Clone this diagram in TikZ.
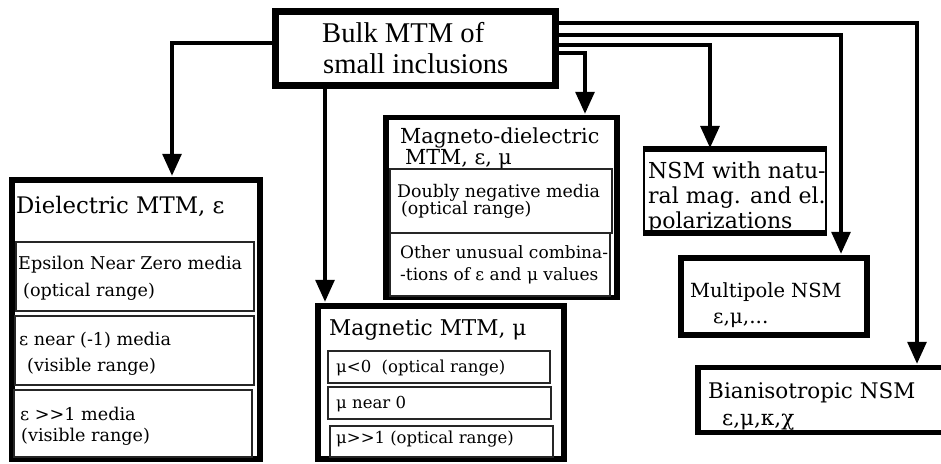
\documentclass[tikz,border=0pt]{standalone}
\usepackage{fontspec}
\setmainfont{DejaVu Serif}
\newfontfamily\tnr{Liberation Serif}
\usetikzlibrary{arrows.meta}
\newcommand\fsz[1]{\fontsize{#1}{#1}\selectfont}
\tikzset{
 bigbox/.style={draw, line width=6.5pt, inner sep=0pt, fill=white},
 subbox/.style={draw=black!85, line width=1.2pt, inner sep=0pt},
 txt/.style={anchor=base west, inner sep=0pt},
 conn/.style={line width=3.2pt, -{Triangle[length=22pt,width=19pt]}, shorten >=1pt},
}
\begin{document}
\begin{tikzpicture}[x=1pt,y=-1pt]
\useasboundingbox (0,0) rectangle (941,463);
\clip (0,0) rectangle (941,463);
\fill[white] (0,0) rectangle (941,463);

% connector bends
\coordinate (a1) at (172,43);
\coordinate (a2) at (325,100);
\coordinate (a3) at (585,53);
\coordinate (a4) at (710,45);
\coordinate (a5) at (841,35);
\coordinate (a6) at (917,23);

% boxes
\node[bigbox, line width=7pt, minimum width=280pt, minimum height=73.5pt] (top) at (415,48.25) {};
\node[bigbox, minimum width=248pt, minimum height=279pt] (diel) at (136,319.5) {};
\node[bigbox, line width=5.5pt, minimum width=231pt, minimum height=180pt] (mdiel) at (501.5,207.5) {};
\node[bigbox, minimum width=246pt, minimum height=153pt] (magn) at (441,382.5) {};
\node[bigbox, line width=2.2pt, minimum width=182pt, minimum height=82pt] (nsm) at (735,191) {};
\draw[line width=6.5pt] (nsm.north west) -- (nsm.north east);
\draw[line width=6.5pt] (nsm.south west) -- (nsm.south east);
\node[bigbox, minimum width=186pt, minimum height=77pt] (mult) at (774,296.5) {};
\node[bigbox, line width=5.5pt, minimum width=252pt, minimum height=65pt] (bian) at (824,400) {};

% connectors
\draw[conn] (top.west |- a1) -- (a1) -- (a1 |- diel.north);
\draw[conn] (a2 |- top.south) -- (a2 |- magn.north);
\draw[conn] (top.east |- a3) -- (a3) -- (a3 |- mdiel.north);
\draw[conn] (top.east |- a4) -- (a4) -- (a4 |- nsm.north);
\draw[conn] (top.east |- a5) -- (a5) -- (a5 |- mult.north);
\draw[conn] (top.east |- a6) -- (a6) -- (a6 |- bian.north);

% sub boxes
\node[subbox, minimum width=238pt, minimum height=69pt] (d1) at (135,276.5) {};
\node[subbox, minimum width=239pt, minimum height=69pt] (d2) at (134.5,350.5) {};
\node[subbox, minimum width=238pt, minimum height=67pt] (d3) at (133,423.5) {};
\node[subbox, minimum width=222pt, minimum height=64pt] (m1) at (501,201) {};
\node[subbox, minimum width=220pt, minimum height=63pt] (m2) at (500,264.5) {};
\node[subbox, minimum width=222pt, minimum height=32pt] (g1) at (439,367) {};
\node[subbox, minimum width=223pt, minimum height=32pt] (g2) at (439.5,403) {};
\node[subbox, minimum width=223pt, minimum height=31pt] (g3) at (441.5,441.5) {};

% texts
\node[txt, font=\tnr\fsz{28.6}] (t1) at (322,42) {Bulk MTM of};
\node[txt, font=\tnr\fsz{28.6}] (t2) at (323,73) {small inclusions};

\node[txt, font=\fsz{22.8}] (dt) at (16,213) {Dielectric MTM, ε};
\node[txt, font=\fsz{17.6}] (d1a) at (18,269) {Epsilon Near Zero media};
\node[txt, font=\fsz{17.6}] (d1b) at (23,296) {(optical range)};
\node[txt, font=\fsz{17.6}] (d2a) at (19,345) {ε near (-1) media};
\node[txt, font=\fsz{17.6}] (d2b) at (27,371) {(visible range)};
\node[txt, font=\fsz{17.6}] (d3a) at (20,420) {ε >{}>1 media};
\node[txt, font=\fsz{17.6}] (d3b) at (21,441) {(visible range)};

\node[txt, font=\fsz{20.7}] (mt1) at (400,143) {Magneto-dielectric};
\node[txt, font=\fsz{20.7}] (mt2) at (405,164) {MTM, ε, μ};
\node[txt, font=\fsz{17.4}] (m1a) at (397,197) {Doubly negative media};
\node[txt, font=\fsz{17.4}] (m1b) at (401,214) {(optical range)};
\node[txt, font=\fsz{17}] (m2a) at (400,258) {Other unusual combina-};
\node[txt, font=\fsz{17}] (m2b) at (400,280) {-tions of ε and μ values};

\node[txt, font=\fsz{21.7}] (gt) at (329,335) {Magnetic MTM, μ};
\node[txt, font=\fsz{16.5}] (g1a) at (336,372) {μ<0~ (optical range)};
\node[txt, font=\fsz{16.5}] (g2a) at (336,408) {μ near 0};
\node[txt, font=\fsz{16.5}] (g3a) at (336,443) {μ>{}>1 (optical range)};

\node[txt, font=\fsz{22}] (n1) at (648,178) {NSM with natu-};
\node[txt, font=\fsz{22}] (n2) at (648,203) {ral mag. and el.};
\node[txt, font=\fsz{22}] (n3) at (648,228) {polarizations};

\node[txt, font=\fsz{19.5}] (p1) at (690,297) {Multipole NSM};
\node[txt, font=\fsz{20}] (p2) at (713,323) {ε,μ,...};

\node[txt, font=\fsz{21.5}] (b1) at (708,398) {Bianisotropic NSM};
\node[txt, font=\fsz{21.5}] (b2) at (722,425) {ε,μ,κ,χ};
\end{tikzpicture}
\end{document}
